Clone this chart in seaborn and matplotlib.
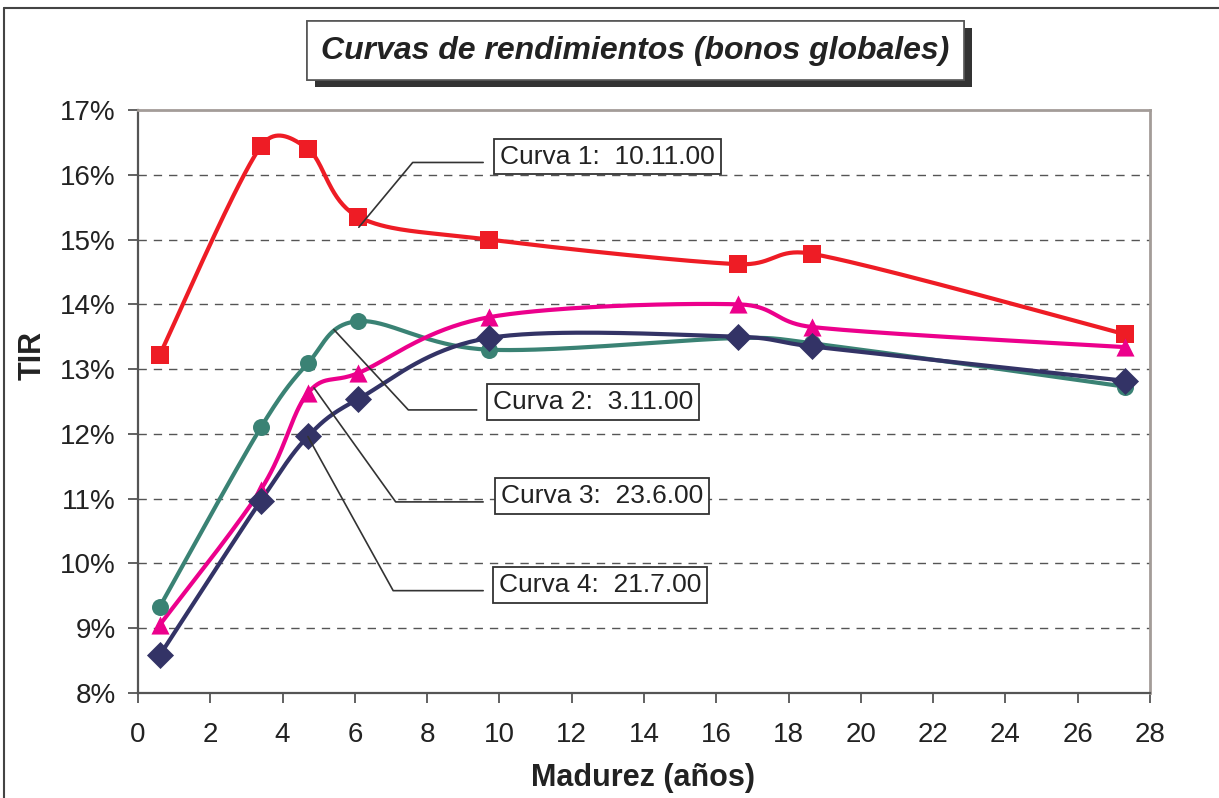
import numpy as np
import pandas as pd
import matplotlib
matplotlib.use("Agg")
import matplotlib.pyplot as plt
import matplotlib.patheffects as pe
from matplotlib.lines import Line2D
import seaborn as sns

# maturity (years) of each bond marker
madurez = [0.6, 3.4, 4.7, 6.1, 9.7, 16.6, 18.65, 27.3]

# yield (TIR, %) for each curve
curva1 = [13.22, 16.44, 16.40, 15.35, 15.00, 14.62, 14.78, 13.54]
curva2 = [9.33, 12.10, 13.09, 13.74, 13.30, 13.48, 13.40, 12.73]
curva3 = [9.05, 11.14, 12.63, 12.94, 13.80, 14.00, 13.65, 13.34]
curva4 = [8.58, 10.97, 11.96, 12.54, 13.48, 13.50, 13.35, 12.82]

etiquetas = ["Curva 1:  10.11.00", "Curva 2:  3.11.00",
             "Curva 3:  23.6.00", "Curva 4:  21.7.00"]

y_ticks = [8, 9, 10, 11, 12, 13, 14, 15, 16, 17]
x_ticks = list(range(0, 29, 2))

series = [curva1, curva2, curva3, curva4]
colores = ["#EE1C25", "#3A8274", "#EC008C", "#333366"]
marcadores = ["s", "o", "^", "D"]
tamanos = [150, 150, 170, 190]

# pixels per unit on screen, so the smoothing behaves like Excel's
SX, SY = 36.1, 64.7


def _ctrl(a, b, d12):
    # tangent (b - a)/6, but never longer than half the segment
    v = b - a
    L = np.hypot(*v)
    if L == 0:
        return v * 0
    if L / 6 < d12 / 2:
        return v / 6
    return v / L * d12 / 2


def excel_smooth(x, y, n=40):
    # bezier "smoothed line" as drawn by Excel
    pts = np.column_stack([np.asarray(x) * SX, np.asarray(y) * SY]).astype(float)
    out = []
    last = len(pts) - 1
    for i in range(last):
        p1, p2 = pts[i], pts[i + 1]
        p0 = pts[i - 1] if i > 0 else p1
        p3 = pts[i + 2] if i + 1 < last else p2
        d12 = np.hypot(*(p2 - p1))
        c1 = p1 + _ctrl(p0, p2, d12)
        c2 = p2 - _ctrl(p1, p3, d12)
        t = np.linspace(0, 1, n)[:, None]
        seg = ((1 - t) ** 3) * p1 + 3 * ((1 - t) ** 2) * t * c1 + 3 * (1 - t) * t ** 2 * c2 + t ** 3 * p2
        out.append(seg if i == 0 else seg[1:])
    seg = np.vstack(out)
    return seg[:, 0] / SX, seg[:, 1] / SY


sns.set_theme(style="white")
plt.rcParams["font.family"] = ["Liberation Sans", "DejaVu Sans"]

fig = plt.figure(figsize=(12.19, 7.98), dpi=100)
ax = fig.add_axes([138 / 1219, 1 - 693 / 798, (1150 - 138) / 1219, (693 - 110) / 798])

for vals, col, mk, sz in zip(series, colores, marcadores, tamanos):
    sx, sy = excel_smooth(madurez, vals)
    sns.lineplot(x=sx, y=sy, sort=False, estimator=None, color=col, lw=3, ax=ax)
    sns.scatterplot(x=madurez, y=vals, marker=mk, s=sz, color=col, edgecolor=col,
                    linewidth=0, ax=ax, zorder=5)

ax.set_xlim(0, 28)
ax.set_ylim(8, 17)
ax.set_xticks(x_ticks)
ax.set_yticks(y_ticks)
ax.set_yticklabels([f"{v}%" for v in y_ticks])
ax.tick_params(axis="both", direction="out", length=7, width=1.3, color="#555555",
               labelsize=20, labelcolor="#222222", bottom=True, left=True)
ax.tick_params(axis="x", pad=14)
ax.tick_params(axis="y", pad=9)

for v in y_ticks[1:-1]:
    ax.axhline(v, color="#555555", lw=1, ls=(0, (6, 5)), zorder=0)

for s in ["left", "bottom"]:
    ax.spines[s].set_color("#555555")
    ax.spines[s].set_linewidth(1.6)
for s in ["top", "right"]:
    ax.spines[s].set_color("#A39C98")
    ax.spines[s].set_linewidth(2)

# leader lines and labels
posiciones = [(10.02, 16.28), (9.82, 12.49), (10.04, 11.04), (9.99, 9.67)]
lideres = [[(6.11, 15.19), (7.60, 16.19), (9.55, 16.19)],
           [(5.42, 13.61), (7.48, 12.37), (9.37, 12.37)],
           [(4.87, 12.71), (7.13, 10.95), (9.55, 10.95)],
           [(4.70, 11.96), (7.06, 9.58), (9.55, 9.58)]]
for txt, (px, py), lid in zip(etiquetas, posiciones, lideres):
    lx, ly = zip(*lid)
    ax.plot(lx, ly, color="#333333", lw=1.2, zorder=6)
    ax.text(px, py, txt, fontsize=19, color="#222222", ha="left", va="center", zorder=7,
            bbox=dict(boxstyle="square,pad=0.22", fc="white", ec="#333333", lw=1.3))

ax.set_xlabel("")
ax.set_ylabel("")
fig.text(643 / 1219, 1 - 778 / 798, "Madurez (años)", fontsize=22, fontweight="bold",
         color="#222222", ha="center", va="center")
fig.text(33 / 1219, 1 - 356 / 798, "TIR", fontsize=22, fontweight="bold",
         color="#222222", ha="center", va="center", rotation=90)

title = fig.text(635 / 1219, 1 - 50.5 / 798, "Curvas de rendimientos (bonos globales)",
                 fontsize=23, fontweight="bold", fontstyle="italic", color="#222222",
                 ha="center", va="center",
                 bbox=dict(boxstyle="square,pad=0.45", fc="white", ec="#555555", lw=1.2))
title.get_bbox_patch().set_path_effects(
    [pe.withSimplePatchShadow(offset=(6, -5), shadow_rgbFace="#333333", alpha=1), pe.Normal()])

# outer chart frame
fig.add_artist(Line2D([4 / 1219, 1.0], [1 - 8 / 798, 1 - 8 / 798], color="#444444", lw=1.5))
fig.add_artist(Line2D([4 / 1219, 4 / 1219], [0, 1 - 8 / 798], color="#444444", lw=1.5))

fig.savefig("out.png", dpi=100)
